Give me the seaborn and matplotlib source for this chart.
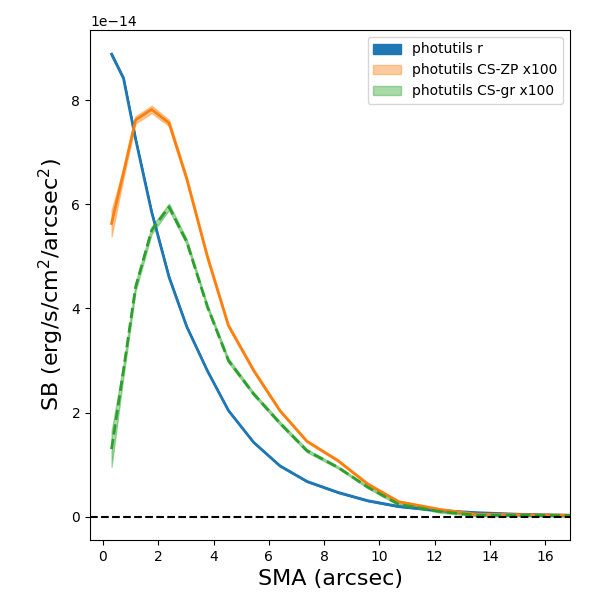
import numpy as np
import pandas as pd
import matplotlib
matplotlib.use("Agg")
import matplotlib.pyplot as plt
import seaborn as sns

# semi-major axis in arcsec
sma = [0.31, 0.74, 1.18, 1.76, 2.39, 3.03, 3.78, 4.54, 5.45, 6.40, 7.38,
       8.50, 9.58, 10.70, 12.2, 13.5, 15.0, 16.9]

# surface brightness, units of 1e-14 erg/s/cm2/arcsec2
sb_r = [8.88, 8.42, 7.25, 5.85, 4.60, 3.65, 2.80, 2.04, 1.43, 0.98, 0.68,
        0.47, 0.31, 0.20, 0.12, 0.08, 0.05, 0.03]
err_r = [0.02, 0.02, 0.02, 0.02, 0.02, 0.01, 0.01, 0.01, 0.01, 0.01, 0.01,
         0.01, 0.01, 0.01, 0.01, 0.01, 0.01, 0.01]

sb_zp = [5.63, 6.60, 7.62, 7.82, 7.56, 6.49, 4.99, 3.67, 2.81, 2.04, 1.45,
         1.08, 0.63, 0.29, 0.14, 0.05, 0.04, 0.03]
err_zp = [0.25, 0.10, 0.07, 0.07, 0.06, 0.05, 0.04, 0.03, 0.03, 0.02, 0.02,
          0.02, 0.02, 0.02, 0.02, 0.02, 0.02, 0.02]

sb_gr = [1.30, 2.81, 4.41, 5.50, 5.95, 5.28, 4.03, 3.00, 2.36, 1.80, 1.27,
         0.95, 0.57, 0.24, 0.10, 0.03, 0.03, 0.02]
err_gr = [0.34, 0.12, 0.08, 0.07, 0.06, 0.05, 0.04, 0.04, 0.03, 0.03, 0.03,
          0.02, 0.02, 0.02, 0.02, 0.02, 0.02, 0.02]

scale = 1e-14

df = pd.DataFrame({
    "sma": sma,
    "r": np.array(sb_r) * scale,
    "zp": np.array(sb_zp) * scale,
    "gr": np.array(sb_gr) * scale,
})

fig = plt.figure(figsize=(6, 6), dpi=100)
ax = fig.add_axes([0.15, 0.10, 0.80, 0.85])

sns.lineplot(data=df, x="sma", y="r", color="C0", lw=2, ax=ax, legend=False)
ax.fill_between(sma, df["r"] - np.array(err_r) * scale, df["r"] + np.array(err_r) * scale,
                color="C0", label="photutils r")

sns.lineplot(data=df, x="sma", y="zp", color="C1", lw=2, ax=ax, legend=False)
ax.fill_between(sma, df["zp"] - np.array(err_zp) * scale, df["zp"] + np.array(err_zp) * scale,
                color="C1", alpha=0.4, label="photutils CS-ZP x100")

sns.lineplot(data=df, x="sma", y="gr", color="C2", lw=2, ls="--", ax=ax, legend=False)
ax.fill_between(sma, df["gr"] - np.array(err_gr) * scale, df["gr"] + np.array(err_gr) * scale,
                color="C2", alpha=0.4, label="photutils CS-gr x100")

ax.axhline(0, color="k", ls="--", lw=1.5)
ax.set_xlim(-0.47, 16.9)
ax.set_xticks(np.arange(0, 17, 2))

ax.set_xlabel("SMA (arcsec)", fontsize=16)
ax.set_ylabel("SB (erg/s/cm$^2$/arcsec$^2$)", fontsize=16)
ax.legend(loc="upper right")

fig.savefig("out.png", dpi=100)
